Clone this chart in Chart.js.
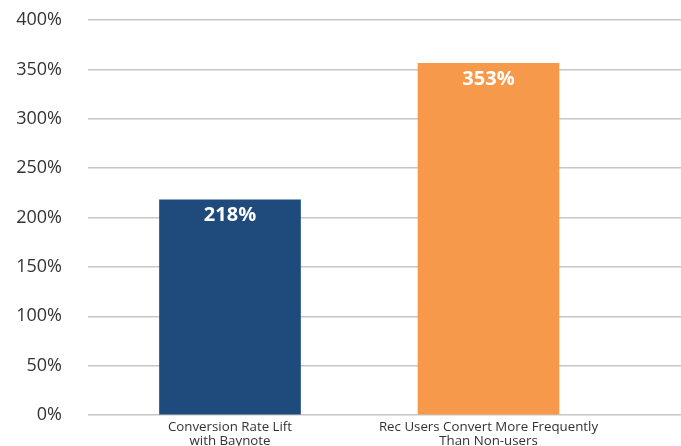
<!DOCTYPE html>
<html>
<head>
<meta charset="utf-8">
<script src="https://cdn.jsdelivr.net/npm/chart.js@4.4.1/dist/chart.umd.min.js"></script>
<style>
  html, body { margin: 0; padding: 0; background: #fff; overflow: hidden; }
  #wrap { width: 681px; height: 446px; }
</style>
</head>
<body>
<div id="wrap"><canvas id="chart"></canvas></div>
<script>
// chart data
const categories = [
    ['Conversion Rate Lift', 'with Baynote'],
    ['Rec Users Convert More Frequently', 'Than Non-users']
];
const positions = [0, 1];
const values = [218, 356];
const valueLabels = ['218%', '353%'];
const barColors = ['#1e4a7c', '#f7994a'];
const yTicks = [0, 50, 100, 150, 200, 250, 300, 350, 400];

// white labels inside the top of each bar
const barLabels = {
    id: 'barLabels',
    afterDatasetsDraw(chart) {
        const ctx = chart.ctx;
        const meta = chart.getDatasetMeta(0);
        ctx.save();
        ctx.fillStyle = '#ffffff';
        ctx.font = 'bold 20px "Open Sans"';
        ctx.textAlign = 'center';
        ctx.textBaseline = 'middle';
        meta.data.forEach((bar, i) => {
            ctx.fillText(valueLabels[i], bar.x, bar.y + 16);
        });
        ctx.restore();
    }
};

new Chart(document.getElementById('chart'), {
    type: 'bar',
    data: {
        datasets: [{
            data: positions.map((p, i) => ({ x: p, y: values[i] })),
            backgroundColor: barColors,
            borderWidth: 0,
            barThickness: 141
        }]
    },
    options: {
        responsive: true,
        maintainAspectRatio: false,
        animation: false,
        layout: { padding: { top: 20, left: 0, right: 0, bottom: 0 } },
        plugins: {
            legend: { display: false },
            tooltip: { enabled: false }
        },
        scales: {
            x: {
                type: 'linear',
                offset: false,
                min: -0.5493,
                max: 1.7447,
                grid: { display: false },
                border: { display: false },
                afterBuildTicks: scale => { scale.ticks = positions.map(v => ({ value: v })); },
                afterFit: scale => { scale.height = 31; },
                ticks: {
                    autoSkip: false,
                    maxRotation: 0,
                    padding: -3,
                    color: '#333333',
                    font: { family: '"Open Sans"', size: 13.3, lineHeight: 1.05 },
                    callback: v => categories[v] || ''
                }
            },
            y: {
                min: 0,
                max: 400,
                // invisible tick marks push the labels away from the grid
                grid: { color: '#c6c6c6', lineWidth: 1.5, drawTicks: true, tickLength: 23, tickColor: 'rgba(0,0,0,0)' },
                border: { display: false },
                afterBuildTicks: scale => { scale.ticks = yTicks.map(v => ({ value: v })); },
                afterFit: scale => { scale.width = 88; },
                ticks: {
                    padding: 3,
                    color: '#333333',
                    font: { family: '"Open Sans"', size: 18 },
                    callback: v => v + '%'
                }
            }
        }
    },
    plugins: [barLabels]
});
</script>
</body>
</html>
